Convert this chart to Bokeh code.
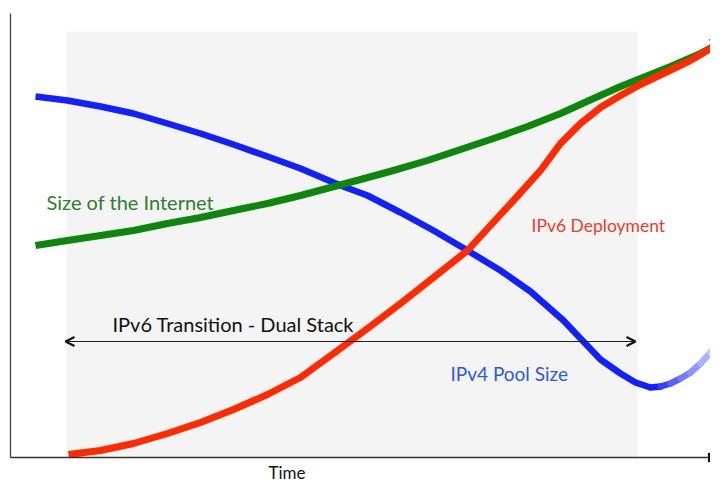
from bokeh.plotting import figure
from bokeh.models import Range1d, Arrow, NormalHead, OpenHead, ColumnDataSource
from bokeh.core.properties import value
from bokeh.embed import file_html
from bokeh.resources import INLINE

# ---- data (time vs. relative size, arbitrary units) ----
time_internet = [25, 57, 90, 123, 157, 190, 223, 257, 290, 320, 350, 383, 417, 450, 483, 517, 550, 583, 610, 630, 660, 690, 717]
size_internet = [212, 217, 222, 227, 234, 240, 247, 254, 262, 270, 278, 287, 297, 308, 319, 331, 344, 359, 371, 379, 391, 404, 419]

time_ipv4 = [25, 57, 90, 123, 157, 190, 223, 257, 290, 330, 357, 390, 423, 457, 490, 520, 553, 570, 590, 610, 625, 640]
ipv4_pool = [361, 357, 351, 344, 334, 324, 313, 301, 289, 272, 262, 245, 227, 207, 187, 166, 137, 119, 98, 84, 75, 70]
time_ipv4_tail = [640, 650, 660, 670, 680, 690, 700, 708, 716]
ipv4_pool_tail = [70, 71, 74, 79, 85, 94, 105, 117, 130]

time_ipv6 = [58, 90, 123, 157, 190, 223, 257, 290, 323, 357, 390, 423, 457, 490, 503, 530, 550, 570, 590, 610, 630, 655, 680, 717]
ipv6_deploy = [3, 7, 14, 24, 35, 48, 63, 80, 104, 129, 154, 180, 207, 243, 257, 287, 314, 334, 350, 362, 373, 385, 397, 419]

transition_start, transition_end = 56, 627   # dual-stack period (shaded)
transition_arrow = [55, 625]
transition_level = 116
axis_top = 444
axis_end = 707
shade_top = 426

labels = ["Size of the Internet", "IPv6 Deployment", "IPv4 Pool Size", "IPv6 Transition - Dual Stack", "Time"]
label_x = [36, 521, 440, 102, 258]
label_y = [256, 232, 84, 134, -15]

# ---- styles ----
label_colors = ["#2f7d2f", "#ea3d28", "#2c58e6", "#111111", "#111111"]
label_sizes = ["20px", "17.5px", "19px", "20px", "17px"]
GREEN = "#0c870c"
BLUE = (16, 32, 255)
BLUE_FADED = (225, 229, 255)
RED = "#ff2a00"
BLUE_HEX = "#%02x%02x%02x" % BLUE

p = figure(width=710, height=487, output_backend="svg", toolbar_location=None,
           x_range=Range1d(-10, 700), y_range=Range1d(-30, 457), min_border=0)
p.axis.visible = False
p.grid.visible = False
p.outline_line_color = None
p.background_fill_color = "white"

# shaded transition period
p.quad(left=[transition_start], right=[transition_end], bottom=[0], top=[shade_top],
       fill_color="#f4f4f4", line_color=None)

# axes drawn as lines
p.segment(x0=[0], y0=[0], x1=[0], y1=[axis_top], line_color="#444444", line_width=1.3)
p.add_layout(Arrow(end=NormalHead(size=9, fill_color="#111111", line_color="#111111"),
                   x_start=0, y_start=0, x_end=axis_end, y_end=0,
                   line_color="#333333", line_width=1.3))

# double arrow for dual stack
p.add_layout(Arrow(start=OpenHead(size=9, line_color="#111111", line_width=2),
                   end=OpenHead(size=9, line_color="#111111", line_width=2),
                   x_start=transition_arrow[0], y_start=transition_level,
                   x_end=transition_arrow[1], y_end=transition_level,
                   line_color="#222222", line_width=1.2))

# IPv4 pool
p.line(time_ipv4, ipv4_pool, line_color=BLUE_HEX, line_width=6.5, line_join="round")
n = len(time_ipv4_tail) - 1
tail_colors = []
for i in range(n):
    f = (i / (n - 1)) ** 0.9
    c = tuple(int(round(BLUE[k] + (BLUE_FADED[k] - BLUE[k]) * f)) for k in range(3))
    tail_colors.append("#%02x%02x%02x" % c)
p.segment(x0=time_ipv4_tail[:-1], y0=ipv4_pool_tail[:-1], x1=time_ipv4_tail[1:], y1=ipv4_pool_tail[1:],
          line_color=tail_colors, line_width=6.5, line_cap="round")

# size of the internet
p.line(time_internet[:-1], size_internet[:-1], line_color=GREEN, line_width=7, line_join="round")
p.add_layout(Arrow(end=NormalHead(size=16, fill_color=GREEN, line_color=GREEN),
                   x_start=time_internet[-2], y_start=size_internet[-2],
                   x_end=time_internet[-1], y_end=size_internet[-1],
                   line_color=GREEN, line_width=7))

# IPv6 deployment
p.line(time_ipv6[:-1], ipv6_deploy[:-1], line_color=RED, line_width=7, line_join="round")
p.add_layout(Arrow(end=NormalHead(size=16, fill_color=RED, line_color=RED),
                   x_start=time_ipv6[-2], y_start=ipv6_deploy[-2],
                   x_end=time_ipv6[-1], y_end=ipv6_deploy[-1],
                   line_color=RED, line_width=7))

src = ColumnDataSource(dict(x=label_x, y=label_y, t=labels, c=label_colors, s=label_sizes))
p.text(x="x", y="y", text="t", text_color="c", text_font_size="s", source=src,
       text_font=value("Lato"), text_baseline="alphabetic", text_align="left")

open("out.html", "w").write(file_html(p, INLINE))
